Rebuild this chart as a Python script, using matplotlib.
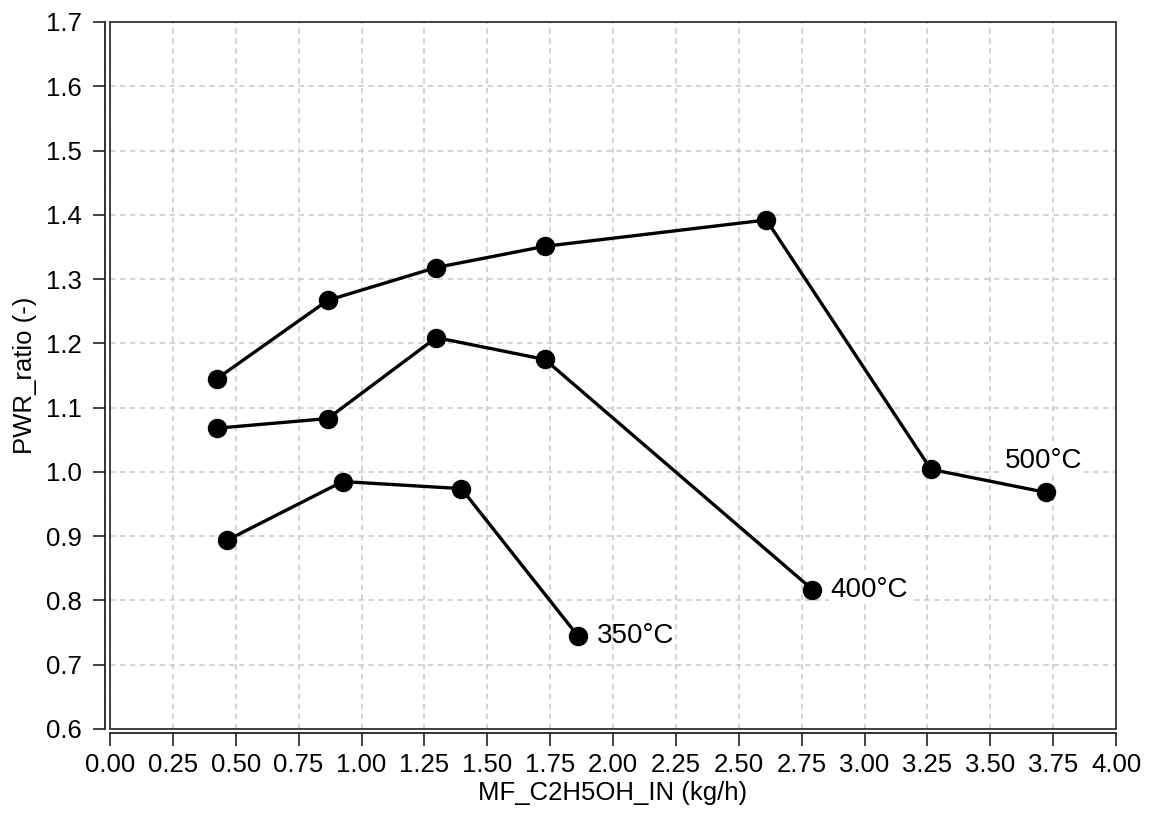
import matplotlib.pyplot as plt
from matplotlib.patches import Rectangle

plt.rcParams['font.family'] = ['Liberation Sans', 'DejaVu Sans']

# Data
x_350 = [0.467, 0.925, 1.397, 1.860]
y_350 = [0.894, 0.985, 0.974, 0.745]

x_400 = [0.425, 0.866, 1.297, 1.729, 2.793]
y_400 = [1.068, 1.083, 1.209, 1.175, 0.817]

x_500 = [0.425, 0.866, 1.297, 1.729, 2.610, 3.264, 3.723]
y_500 = [1.145, 1.267, 1.318, 1.351, 1.392, 1.004, 0.968]

x_ticks = [i * 0.25 for i in range(17)]
y_ticks = [0.6 + i * 0.1 for i in range(12)]

fig = plt.figure(figsize=(11.5, 8.14), dpi=100)
ax = fig.add_axes([110 / 1150, 85 / 814, 1006 / 1150, 707 / 814])

line_kw = dict(color='black', lw=2.4, marker='o', markersize=13)
ax.plot(x_350, y_350, **line_kw)
ax.plot(x_400, y_400, **line_kw)
ax.plot(x_500, y_500, **line_kw)

#Series labels next to the last point
ax.annotate('350°C', (x_350[-1], y_350[-1]), xytext=(14, 0), textcoords='offset points',
            fontsize=20, va='center', ha='left')
ax.annotate('400°C', (x_400[-1], y_400[-1]), xytext=(13, 0), textcoords='offset points',
            fontsize=20, va='center', ha='left',
            bbox=dict(fc='white', ec='none', pad=1))
ax.annotate('500°C', (x_500[-1], y_500[-1]), xytext=(-30, 23), textcoords='offset points',
            fontsize=20, va='center', ha='left',
            bbox=dict(fc='white', ec='none', pad=1))

ax.set_xlim(0, 4)
ax.set_ylim(0.6, 1.7)
ax.set_xticks(x_ticks)
ax.set_xticklabels([f'{v:.2f}' for v in x_ticks])
ax.set_yticks(y_ticks)
ax.set_yticklabels([f'{v:.1f}' for v in y_ticks])

ax.grid(True, color='#c8c8c8', lw=1.1, linestyle=(0, (3.5, 3)))
ax.set_axisbelow(True)

#Detached left/bottom axis lines plus a full frame box
for side in ['top', 'right']:
    ax.spines[side].set_visible(False)
ax.spines['left'].set_position(('outward', 3.6))
ax.spines['bottom'].set_position(('outward', 3.0))
for side in ['left', 'bottom']:
    ax.spines[side].set_linewidth(1.3)
    ax.spines[side].set_color('#222222')
ax.add_patch(Rectangle((0, 0), 1, 1, transform=ax.transAxes, fill=False,
                       lw=1.3, ec='#333333', clip_on=False, zorder=5))

ax.tick_params(axis='both', direction='out', length=9, width=1.3, color='#333333',
               labelsize=18.5)
ax.tick_params(axis='y', pad=8)
ax.tick_params(axis='x', pad=5)

ax.set_xlabel('MF_C2H5OH_IN (kg/h)', fontsize=18.5, labelpad=3)
ax.set_ylabel('PWR_ratio (-)', fontsize=18.5, labelpad=6)

plt.savefig('out.png')
